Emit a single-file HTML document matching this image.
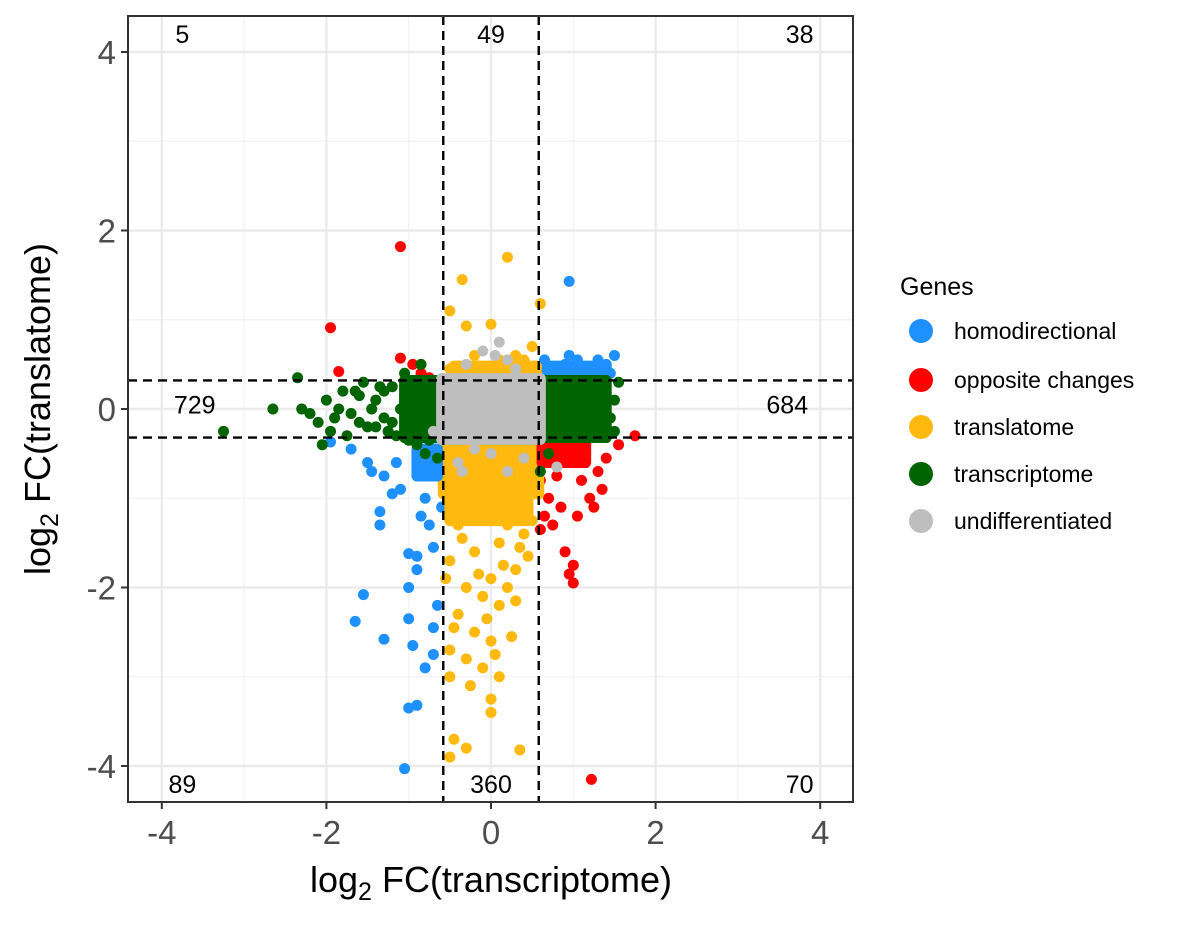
<!DOCTYPE html>
<html><head><meta charset="utf-8"><style>
body{margin:0;background:#fff;}
svg text{font-family:"Liberation Sans",Arial,sans-serif;}
</style></head><body>
<svg id="chart" width="1200" height="924" xmlns="http://www.w3.org/2000/svg"></svg>
<script>
const xTicks=[-4,-2,0,2,4];
const yTicks=[4,2,0,-2,-4];
const xMinor=[-3,-1,1,3];
const yMinor=[3,1,-1,-3];
const quadLabels=["5","49","38","729","684","89","360","70"];
const quadPos=[[-3.75,4.2],[0,4.2],[3.75,4.2],[-3.6,0.05],[3.6,0.05],[-3.75,-4.2],[0,-4.2],[3.75,-4.2]];
const thresholdX=[-0.58,0.58];
const thresholdY=[0.32,-0.32];
const categories=["homodirectional","opposite changes","translatome","transcriptome","undifferentiated"];
const colors=["#1e90ff","#ff0000","#ffb90f","#006400","#bebebe"];
// dense regions [x0,x1,y0,y1] per category index
const denseCat=[0,2,2,2,1,0,3,3,4];
const denseBox=[[0.62,1.4,0.32,0.48],[-0.45,0.55,0.3,0.48],[-0.58,0.58,-0.35,-0.95],[-0.5,0.45,-0.95,-1.25],[0.62,1.15,-0.34,-0.6],[-0.9,-0.65,-0.45,-0.75],[-1.05,-0.6,-0.32,0.32],[0.6,1.4,-0.32,0.32],[-0.6,0.6,-0.34,0.34]];
const homoX=[0.95,-1.65,-1.55,-1.3,-1.35,-1.35,-1.0,-0.9,-1.0,-0.95,-1.0,-0.9,-1.05,-0.7,-0.7,-0.8,-1.0,-0.9,-0.6,-1.1,-0.8,-1.3,-1.5,-1.7,-1.95,-1.2,-0.75,-0.7,-0.65,0.7,0.8,0.9,1.0,1.1,1.2,1.3,1.4,1.5,1.45,0.65,0.95,1.25,1.35,0.75,1.05,1.15,-1.45,-1.15,-0.85];
const homoY=[1.43,-2.38,-2.08,-2.58,-1.15,-1.3,-1.62,-1.65,-2.35,-2.65,-3.35,-3.32,-4.03,-2.45,-2.75,-2.9,-2.0,-1.8,-1.1,-0.9,-1.0,-0.75,-0.6,-0.45,-0.37,-0.95,-1.3,-1.55,-2.2,0.35,0.45,0.5,0.4,0.48,0.45,0.55,0.5,0.6,0.4,0.55,0.6,0.38,0.42,0.4,0.55,0.36,-0.7,-0.6,-1.2];
const oppX=[-1.1,-1.95,-1.85,-1.1,-0.95,-0.85,-0.75,1.75,1.55,1.22,1.0,1.0,0.9,0.95,0.7,0.8,0.9,1.0,1.1,1.2,1.3,1.4,0.65,0.75,0.85,1.05,1.15,0.7,0.6,1.35,1.25,0.6];
const oppY=[1.82,0.91,0.42,0.57,0.5,0.4,0.35,-0.3,-0.4,-4.15,-1.95,-1.75,-1.6,-1.85,-1.0,-0.75,-0.5,-0.6,-0.8,-1.0,-0.7,-0.55,-1.2,-1.3,-1.1,-1.2,-0.5,-0.45,-0.8,-0.9,-1.1,-1.35];
const transX=[-0.35,0.2,0.6,-0.5,0.0,-0.3,-0.2,0.1,0.3,0.5,0.4,-0.5,-0.4,0.55,-0.5,-0.5,-0.45,-0.5,-0.3,0.0,0.0,0.35,0.1,-0.1,-0.3,0.0,-0.2,-0.4,0.1,-0.1,0.2,-0.3,0.0,0.3,-0.5,-0.2,0.1,0.4,-0.45,0.25,-0.05,0.45,-0.35,0.15,-0.15,0.05,-0.25,0.35,-0.55,0.5,0.2,-0.1,0.3,-0.4];
const transY=[1.45,1.7,1.18,1.1,0.95,0.93,0.6,0.55,0.6,0.7,0.55,0.45,0.4,0.45,-2.7,-3.0,-3.7,-3.9,-3.8,-3.4,-3.25,-3.82,-3.0,-2.9,-2.8,-2.6,-2.5,-2.3,-2.2,-2.1,-2.0,-2.0,-1.9,-1.8,-1.7,-1.6,-1.5,-1.4,-2.45,-2.55,-2.35,-1.65,-1.45,-1.75,-1.85,-2.75,-3.1,-1.55,-1.9,-1.25,-1.3,-1.2,-2.15,-1.3];
const tscX=[-3.25,-2.65,-2.35,-2.3,-2.1,-2.0,-1.9,-1.8,-1.7,-1.6,-1.5,-1.4,-1.3,-1.2,-1.1,-2.05,-1.75,-1.55,-1.35,-1.25,-1.85,-2.2,-1.45,-1.15,-0.9,-0.8,-0.65,-0.75,-1.0,-1.05,-0.85,1.55,1.5,1.45,1.5,0.7,0.6,-1.65,-1.95,-1.4,-1.6,-1.2,-1.3];
const tscY=[-0.25,0.0,0.35,0.0,-0.15,0.1,-0.1,0.2,-0.05,0.15,-0.2,0.1,-0.1,0.25,0.0,-0.4,-0.3,0.3,0.25,-0.25,0.0,-0.05,0.0,-0.3,-0.4,-0.5,-0.55,-0.35,-0.35,0.4,0.5,0.3,0.1,-0.1,-0.25,-0.5,-0.7,0.2,-0.25,-0.2,-0.15,-0.15,0.2];
const undX=[-0.7,0.8,0.2,0.1,-0.1,-0.3,0.3,0.0,-0.4,0.2,0.4,-0.2,-0.35,0.05];
const undY=[-0.25,-0.65,0.55,0.75,0.65,0.5,0.45,-0.5,-0.6,-0.7,-0.55,-0.45,-0.7,0.6];

const NS="http://www.w3.org/2000/svg";
const svg=document.getElementById('chart');
const X0=491,XS=82.3,Y0=409,YS=89.25,R=5.5;
const sx=v=>X0+v*XS, sy=v=>Y0-v*YS;
const PL=128,PR=853,PT=16,PB=802;
function mk(tag,attrs,parent){const e=document.createElementNS(NS,tag);for(const k in attrs)e.setAttribute(k,attrs[k]);(parent||svg).appendChild(e);return e;}
const grid=mk('g',{});


xMinor.forEach(v=>mk('line',{x1:sx(v),x2:sx(v),y1:PT,y2:PB,stroke:'#f2f2f2','stroke-width':1.2},grid));
yMinor.forEach(v=>mk('line',{y1:sy(v),y2:sy(v),x1:PL,x2:PR,stroke:'#f2f2f2','stroke-width':1.2},grid));
xTicks.forEach(v=>mk('line',{x1:sx(v),x2:sx(v),y1:PT,y2:PB,stroke:'#ebebeb','stroke-width':2.4},grid));
yTicks.forEach(v=>mk('line',{y1:sy(v),y2:sy(v),x1:PL,x2:PR,stroke:'#ebebeb','stroke-width':2.4},grid));
const pts=mk('g',{});


function drawPts(xs,ys,c){xs.forEach((x,i)=>{const p=mk('circle',{cx:sx(x),cy:sy(ys[i]),r:R,fill:colors[c]},pts);

});}
drawPts(homoX,homoY,0);drawPts(oppX,oppY,1);drawPts(transX,transY,2);
denseBox.forEach((b,i)=>{const r=mk('rect',{x:sx(b[0])-R,y:sy(Math.max(b[2],b[3]))-R,width:(b[1]-b[0])*XS+2*R,height:Math.abs(b[3]-b[2])*YS+2*R,rx:R,fill:colors[denseCat[i]]},pts);

});
drawPts(tscX,tscY,3);drawPts(undX,undY,4);
const th=mk('g',{});


thresholdX.forEach(v=>mk('line',{x1:sx(v),x2:sx(v),y1:PT,y2:PB,stroke:'#000','stroke-width':2.4,'stroke-dasharray':'9,6'},th));
thresholdY.forEach(v=>mk('line',{y1:sy(v),y2:sy(v),x1:PL,x2:PR,stroke:'#000','stroke-width':2.4,'stroke-dasharray':'9,6'},th));
quadLabels.forEach((t,i)=>{const e=mk('text',{x:sx(quadPos[i][0]),y:sy(quadPos[i][1])+9,'text-anchor':'middle','font-size':25,fill:'#000'});e.textContent=t;

});
const border=mk('rect',{x:PL,y:PT,width:PR-PL,height:PB-PT,fill:'none',stroke:'#333','stroke-width':2});


xTicks.forEach(v=>{mk('line',{x1:sx(v),x2:sx(v),y1:PB,y2:PB+7,stroke:'#333','stroke-width':2});
const t=mk('text',{x:sx(v),y:PB+42,'text-anchor':'middle','font-size':33,fill:'#4d4d4d'});t.textContent=v;

});
yTicks.forEach(v=>{mk('line',{x1:PL-7,x2:PL,y1:sy(v),y2:sy(v),stroke:'#333','stroke-width':2});
const t=mk('text',{x:PL-12,y:sy(v)+12,'text-anchor':'end','font-size':33,fill:'#4d4d4d'});t.textContent=v;

});
</script>
<svg style="position:absolute;left:0;top:0" width="1200" height="924" xmlns="http://www.w3.org/2000/svg">
<text x="491" y="892" text-anchor="middle" font-size="36" font-family="Liberation Sans,sans-serif">log<tspan font-size="25" dy="8">2</tspan><tspan dy="-8"> FC(transcriptome)</tspan></text>
<text transform="translate(50,409) rotate(-90)" text-anchor="middle" font-size="36" font-family="Liberation Sans,sans-serif">log<tspan font-size="25" dy="8">2</tspan><tspan dy="-8"> FC(translatome)</tspan></text>
<g font-family="Liberation Sans,sans-serif" font-size="23">
<text x="900" y="295" font-size="25">Genes</text>
<g><circle cx="921" cy="331" r="12" fill="#1e90ff"/><text x="954" y="339">homodirectional</text></g>
<g><circle cx="921" cy="380" r="12" fill="#ff0000"/><text x="954" y="388">opposite changes</text></g>
<g><circle cx="921" cy="427" r="12" fill="#ffb90f"/><text x="954" y="435">translatome</text></g>
<g><circle cx="921" cy="474" r="12" fill="#006400"/><text x="954" y="482">transcriptome</text></g>
<g><circle cx="921" cy="521" r="12" fill="#bebebe"/><text x="954" y="529">undifferentiated</text></g>
</g>
</svg>
</body></html>
